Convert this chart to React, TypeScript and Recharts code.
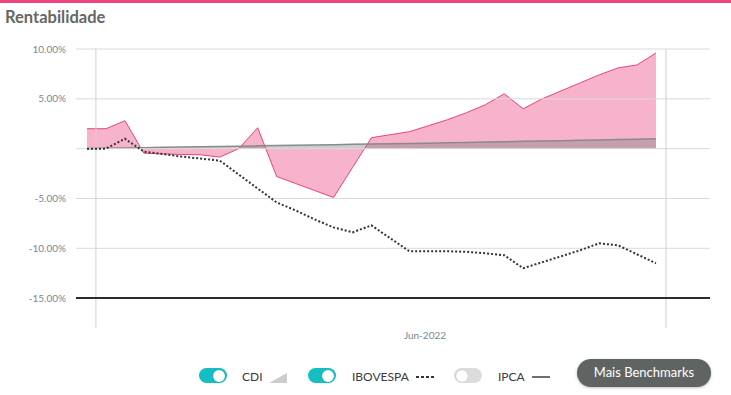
import React from 'react';
import { ComposedChart, Area, Line, XAxis, YAxis, ReferenceLine } from 'recharts';

const weeks = Array.from({ length: 31 }, (_, i) => i);
const fund = [2.0, 2.0, 2.8, -0.45, -0.53, -0.58, -0.62, -0.85, 0.0, 2.1, -2.8, -3.5, -4.2, -4.9, -1.9, 1.1, 1.4, 1.7, 2.3, 2.9, 3.6, 4.4, 5.5, 4.0, 5.0, 5.8, 6.6, 7.4, 8.1, 8.4, 9.6];
const cdi = [0, 0.03, 0.06, 0.1, 0.13, 0.16, 0.19, 0.22, 0.25, 0.28, 0.31, 0.34, 0.37, 0.4, 0.43, 0.46, 0.49, 0.52, 0.55, 0.59, 0.62, 0.66, 0.69, 0.73, 0.76, 0.8, 0.84, 0.87, 0.91, 0.95, 1.0];
const ibov = [0, 0, 1.0, -0.3, -0.55, -0.8, -1.0, -1.2, -2.6, -4.0, -5.4, -6.2, -7.1, -7.9, -8.4, -7.7, -9.0, -10.3, -10.3, -10.3, -10.35, -10.5, -10.7, -12.0, -11.4, -10.8, -10.2, -9.5, -9.7, -10.6, -11.5];
const yTicks = [-15, -10, -5, 0, 5, 10];
const xLabelPos = 17.82;
const xLabel = 'Jun-2022';
const xGridPos = [0.47, 30.53];

const data = weeks.map((i) => ({ i, fund: fund[i], cdi: cdi[i], ibov: ibov[i] }));

const YTick = (props: any) => {
  const { x, y, payload } = props;
  if (payload.value === 0) return null;
  return (
    <text x={x} y={y} dy="0.35em" textAnchor="end" fontSize={10} fill="#798798" fontFamily="Lato">
      {payload.value.toFixed(2) + '%'}
    </text>
  );
};

const XTick = (props: any) => {
  const { x, y } = props;
  return (
    <text x={x} y={y} dy="0.9em" textAnchor="middle" fontSize={10} fill="#798798" fontFamily="Lato">
      {xLabel}
    </text>
  );
};

const Toggle = ({ on, left }: { on: boolean; left: number }) => (
  <div
    style={{
      position: 'absolute',
      left,
      top: 368,
      width: 28,
      height: 15,
      borderRadius: 8,
      background: on ? '#14bec3' : '#dcdcdc',
    }}
  >
    <div
      style={{
        position: 'absolute',
        top: 1.5,
        left: on ? 14 : 2,
        width: 12,
        height: 12,
        borderRadius: 6,
        background: '#fff',
        boxShadow: '0 0 1px rgba(0,0,0,0.3)',
      }}
    />
  </div>
);

const legendText: React.CSSProperties = {
  position: 'absolute',
  top: 369,
  fontSize: 12,
  color: '#3a3a3a',
  fontFamily: 'Lato',
  lineHeight: '15px',
};

export default function App() {
  return (
    <div style={{ position: 'absolute', left: 0, top: 0, width: 731, height: 395, background: '#fff', fontFamily: 'Lato', overflow: 'hidden' }}>
      <div style={{ position: 'absolute', left: 0, top: 0, width: 731, height: 3, background: '#ee4580' }} />
      <div style={{ position: 'absolute', left: 5, top: 7, fontSize: 16.5, fontWeight: 700, color: '#666', fontFamily: 'Lato' }}>
        Rentabilidade
      </div>
      <div style={{ position: 'absolute', left: 0, top: 0 }}>
        <ComposedChart width={731} height={395} data={data} margin={{ top: 49, right: 21, bottom: 37, left: 0 }}>
          <XAxis
            dataKey="i"
            type="number"
            domain={[-0.58, 32.85]}
            allowDataOverflow
            ticks={[xLabelPos]}
            tick={<XTick />}
            axisLine={false}
            tickLine={false}
            height={30}
            tickSize={0}
            tickMargin={2}
          />
          <YAxis
            type="number"
            domain={[-18, 10]}
            allowDataOverflow
            ticks={yTicks}
            tick={<YTick />}
            axisLine={false}
            tickLine={false}
            width={76}
            tickSize={0}
            tickMargin={10}
          />
          {yTicks
            .filter((t) => t !== -15)
            .map((t) => (
              <ReferenceLine key={'h' + t} y={t} stroke="#d9d9d9" />
            ))}
          {xGridPos.map((p) => (
            <ReferenceLine key={'v' + p} x={p} stroke="#d0d0d0" />
          ))}
          <ReferenceLine y={-15} stroke="#2b2b2b" strokeWidth={2} />
          <Area
            dataKey="fund"
            type="linear"
            baseValue={0}
            stroke="#e9437a"
            strokeWidth={1}
            fill="#f7b3cb"
            fillOpacity={1}
            isAnimationActive={false}
            dot={false}
            activeDot={false}
          />
          <Area
            dataKey="cdi"
            type="linear"
            baseValue={0}
            stroke="#8a8a8a"
            strokeWidth={1.5}
            fill="#808080"
            fillOpacity={0.4}
            isAnimationActive={false}
            dot={false}
            activeDot={false}
          />
          <Line
            dataKey="ibov"
            type="linear"
            stroke="#333"
            strokeWidth={2}
            strokeDasharray="2 2"
            dot={false}
            activeDot={false}
            isAnimationActive={false}
          />
        </ComposedChart>
      </div>

      <Toggle on left={199} />
      <div style={{ ...legendText, left: 242 }}>CDI</div>
      <svg style={{ position: 'absolute', left: 269, top: 373 }} width={18} height={10}>
        <polygon points="0,10 18,10 18,0" fill="#cccccc" />
      </svg>

      <Toggle on left={308} />
      <div style={{ ...legendText, left: 352 }}>IBOVESPA</div>
      <svg style={{ position: 'absolute', left: 416, top: 374 }} width={18} height={6}>
        <line x1={0} y1={3} x2={18} y2={3} stroke="#333" strokeWidth={2} strokeDasharray="3 2" />
      </svg>

      <Toggle on={false} left={454} />
      <div style={{ ...legendText, left: 498 }}>IPCA</div>
      <svg style={{ position: 'absolute', left: 532, top: 374 }} width={18} height={6}>
        <line x1={0} y1={3} x2={18} y2={3} stroke="#6f6f6f" strokeWidth={2} />
      </svg>

      <div
        style={{
          position: 'absolute',
          left: 577,
          top: 359,
          width: 134,
          height: 28,
          borderRadius: 14,
          background: '#5f6463',
          color: '#fff',
          fontSize: 13,
          fontFamily: 'Lato',
          lineHeight: '27px',
          textAlign: 'center',
          boxShadow: '0 1px 3px rgba(0,0,0,0.25)',
        }}
      >
        Mais Benchmarks
      </div>
    </div>
  );
}
